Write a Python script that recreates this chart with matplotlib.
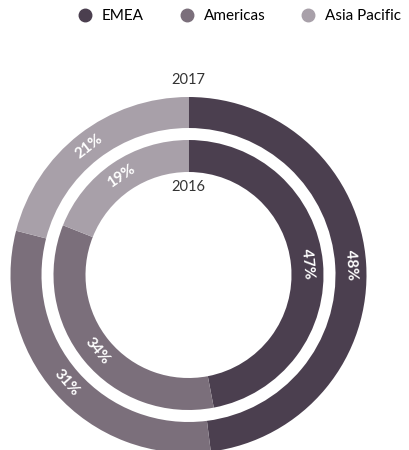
import matplotlib
matplotlib.use("Agg")
import matplotlib.pyplot as plt
import numpy as np

regions = ["EMEA", "Americas", "Asia Pacific"]
share_2017 = [48, 31, 21]
share_2016 = [47, 34, 19]
years = ["2017", "2016"]
colors = ["#4b3f4f", "#7b6f7b", "#a8a0a9"]

plt.rcParams['font.family'] = ['Lato', 'DejaVu Sans']

fig = plt.figure(figsize=(4.1, 4.5), dpi=100)
ax = fig.add_axes([0, 0, 1, 1])

cx, cy = 188.5, 175
r_out, w_out = 178, 31
r_in, w_in = 135, 32

def ring(values, radius, width):
    wedges, _ = ax.pie(values, radius=radius, center=(cx, cy), startangle=90,
                       counterclock=False, colors=colors,
                       wedgeprops=dict(width=width, linewidth=0))
    total = sum(values)
    start = 90.0
    rm = radius - width / 2
    for v in values:
        sweep = 360.0 * v / total
        mid = start - sweep / 2
        start -= sweep
        rot = mid - 90
        while rot <= -90:
            rot += 180
        while rot > 90:
            rot -= 180
        x = cx + rm * np.cos(np.radians(mid))
        y = cy + rm * np.sin(np.radians(mid))
        ax.text(x, y, f"{v}%", rotation=rot, rotation_mode='anchor',
                ha='center', va='center', color='white', fontsize=11,
                fontweight='bold')
    return wedges

wedges = ring(share_2017, r_out, w_out)
ring(share_2016, r_in, w_in)

ax.text(cx, cy + r_out + 17, years[0], ha='center', va='center',
        fontsize=10.5, color='#333333')
ax.text(cx, cy + r_in - w_in - 15, years[1], ha='center', va='center',
        fontsize=10.5, color='#333333')

ax.set_xlim(0, 410)
ax.set_ylim(0, 450)
ax.set_aspect('equal')
ax.axis('off')

handles = [plt.Line2D([], [], marker='o', linestyle='none', markersize=9,
                      markerfacecolor=c, markeredgecolor=c) for c in colors]
fig.legend(handles, regions, loc='upper right', bbox_to_anchor=(1.0, 1.0),
           ncol=3, frameon=False, fontsize=11, handletextpad=0.5,
           columnspacing=2.2, handlelength=1.2, borderaxespad=0.2)

fig.savefig("out.png", dpi=100)
